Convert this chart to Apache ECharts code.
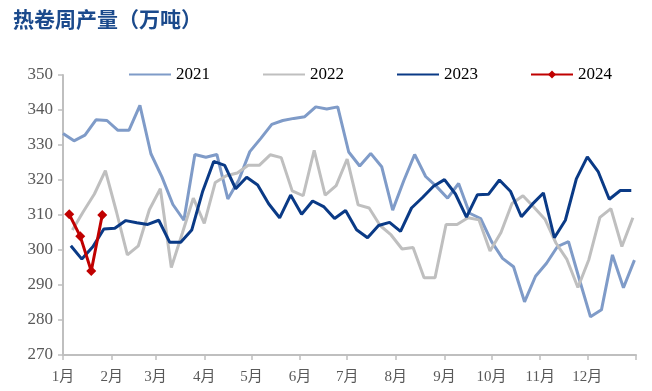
<!DOCTYPE html>
<html><head><meta charset="utf-8">
<script src="https://cdn.jsdelivr.net/npm/echarts@6/dist/echarts.min.js"></script>
<style>html,body{margin:0;padding:0;background:#fff}#c{width:652px;height:391px}</style>
</head><body><div id="c"></div>
<script>
const chartTitle = '热卷周产量（万吨）';
const monthLabels = ['1月','2月','3月','4月','5月','6月','7月','8月','9月','10月','11月','12月'];
const seriesNames = ['2021','2022','2023','2024'];
// first weekly observation date of each year (weekly data, every 7 days)
const firstWeekDates = ['2021-01-01','2022-01-07','2023-01-06','2024-01-05'];
const yMin = 270, yMax = 350, yStep = 10;

const v2021 = [333.3,331.2,332.8,337.2,337.0,334.2,334.2,341.3,327.5,320.9,313.0,308.5,327.3,326.5,327.3,314.6,320.0,328.1,331.9,335.9,337.0,337.6,338.1,340.9,340.3,340.9,328.0,324.0,327.6,323.8,311.4,319.7,327.3,321.0,318.1,314.8,319.0,310.5,309.0,302.4,297.6,295.2,285.2,292.5,296.2,301.0,302.4,291.5,280.9,282.9,298.6,289.2,297.1];
const v2022 = [305.7,311.0,316.0,322.7,311.0,298.6,301.2,311.5,317.5,295.0,304.8,314.8,307.6,319.3,321.2,322.0,324.2,324.2,327.2,326.4,316.9,315.5,328.5,315.7,318.4,326.0,312.9,312.0,307.0,304.3,300.3,300.7,292.1,292.1,307.3,307.3,309.2,308.6,299.7,305.0,313.3,315.5,312.2,308.8,302.0,297.3,289.3,297.3,309.3,311.8,301.0,309.2];
const v2023 = [301.2,297.4,300.9,306.0,306.2,308.4,307.8,307.3,308.5,302.2,302.2,305.7,316.8,325.3,324.2,317.5,320.8,318.6,313.2,309.2,315.7,310.2,314.0,312.4,309.0,311.3,305.8,303.5,307.0,307.9,305.3,312.0,315.0,318.2,320.1,316.0,309.4,315.8,315.9,320.0,316.8,309.5,313.1,316.3,303.5,308.5,320.3,326.6,322.3,314.5,317.0,317.0];
const v2024 = [310.2,303.9,294.0,310.0];

const values = [v2021, v2022, v2023, v2024];
const colors = ['#7F9BC8','#BFBFBF','#0A3A86','#C00000'];

const DAY = 86400000;
function dayOfYear(str){
  const [y,m,d] = str.split('-').map(Number);
  return (Date.UTC(y,m-1,d) - Date.UTC(y,0,1)) / DAY;
}
const refYear = 2023;
const monthStarts = [];
for (let m = 0; m <= 12; m++) monthStarts.push((Date.UTC(refYear,m,1) - Date.UTC(refYear,0,1)) / DAY);

const series = values.map((arr, k) => {
  const start = dayOfYear(firstWeekDates[k]);
  const isLast = k === 3;
  return {
    name: seriesNames[k],
    type: 'line',
    data: arr.map((v, i) => [start + 7 * i, v]),
    showSymbol: isLast,
    symbol: isLast ? 'diamond' : 'none',
    symbolSize: 10,
    itemStyle: { color: colors[k] },
    lineStyle: { color: colors[k], width: 3 },
    z: 2 + k,
    animation: false
  };
});

const chart = echarts.init(document.getElementById('c'));
chart.setOption({
  animation: false,
  backgroundColor: '#fff',
  title: {
    text: chartTitle, left: 8, top: 4,
    textStyle: { fontSize: 21, fontWeight: 'bold', color: '#1B4A8C', fontFamily: 'Noto Sans CJK SC' }
  },
  legend: {
    data: seriesNames.map((n, k) => k === 3 ? { name: n } : { name: n, itemStyle: { opacity: 0 } }),
    left: 123, top: 61,
    itemWidth: 42, itemHeight: 10, itemGap: 52,
    textStyle: { fontFamily: 'Liberation Serif', fontSize: 17, color: '#000' }
  },
  grid: { left: 63, right: 16, top: 75, bottom: 36, containLabel: false },
  xAxis: {
    type: 'value', min: 0, max: monthStarts[12],
    splitLine: { show: false },
    axisLine: { lineStyle: { color: '#BFBFBF', width: 2 } },
    axisTick: { show: true, length: 5, customValues: monthStarts, lineStyle: { color: '#BFBFBF', width: 1.5 } },
    axisLabel: {
      customValues: monthStarts.slice(0, 12),
      formatter: v => monthLabels[monthStarts.indexOf(v)],
      fontFamily: 'Liberation Serif, Noto Sans CJK SC', fontSize: 15, color: '#595959', margin: 15
    }
  },
  yAxis: {
    type: 'value', min: yMin, max: yMax, interval: yStep,
    splitLine: { show: false },
    axisLine: { show: true, lineStyle: { color: '#BFBFBF', width: 2 } },
    axisTick: { show: true, length: 5, lineStyle: { color: '#BFBFBF', width: 1.5 } },
    axisLabel: { fontFamily: 'Liberation Serif', fontSize: 17, color: '#595959', margin: 10 }
  },
  series: series
});
</script></body></html>
